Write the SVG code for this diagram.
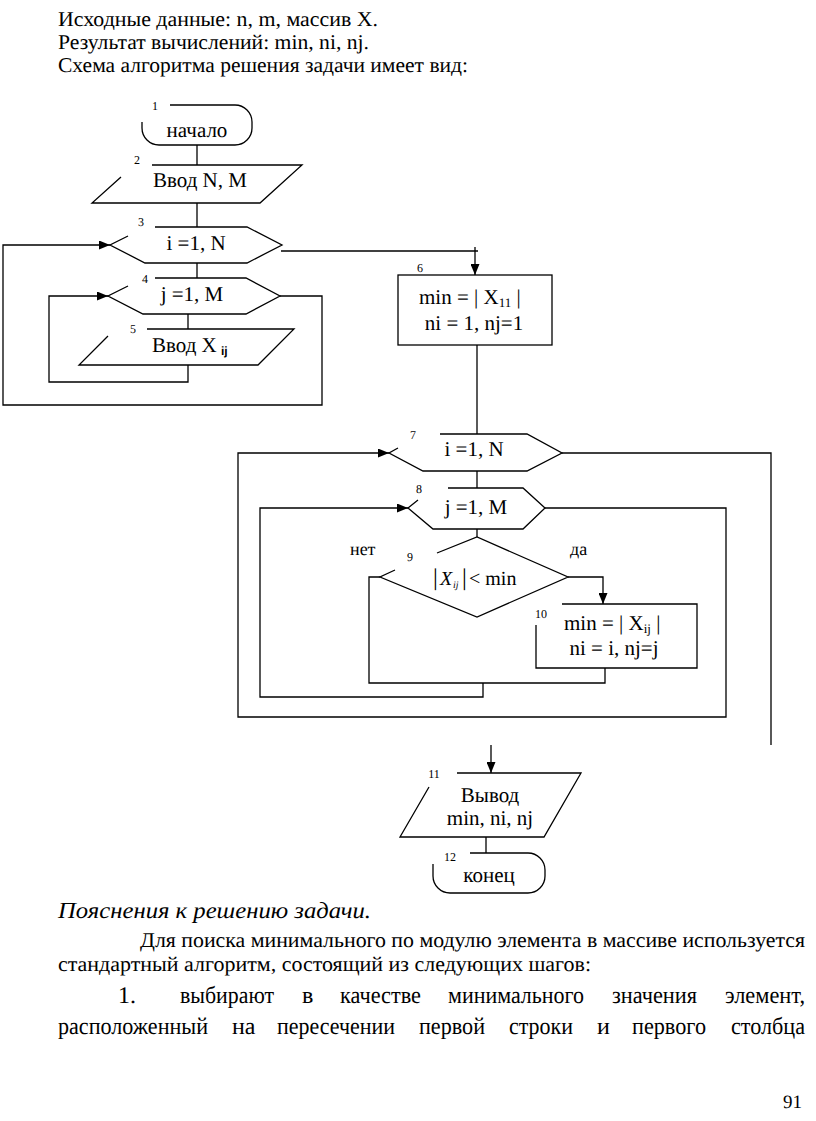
<svg xmlns="http://www.w3.org/2000/svg" width="816" height="1121" viewBox="0 0 816 1121">
<style>
.s{fill:none;stroke:#000;stroke-width:1.3}
.t{fill:#000}
.n{font-size:21px;text-anchor:middle}
.lb{font-size:12px;text-anchor:middle}
.p{font-size:21px}
.w{font-size:24px}
text{text-rendering:geometricPrecision}
</style>
<defs>
<marker id="ah" markerWidth="11" markerHeight="9" refX="11" refY="4.5" orient="auto" markerUnits="userSpaceOnUse">
<path d="M0,0 L11,4.5 L0,9 z" fill="#000"/>
</marker>
</defs>
<rect width="816" height="1121" fill="#fff"/>
<g font-family="Liberation Serif, serif" lang="ru">

<g id="header" class="t p">
<text x="58" y="26" font-family="Liberation Serif" textLength="320" lengthAdjust="spacingAndGlyphs">Исходные данные: n, m, массив X.</text>
<text x="58" y="49" font-family="Liberation Serif" textLength="311" lengthAdjust="spacingAndGlyphs">Результат вычислений: min, ni, nj.</text>
<text x="58" y="72" font-family="Liberation Serif" textLength="410" lengthAdjust="spacingAndGlyphs">Схема алгоритма решения задачи имеет вид:</text>
</g>

<g id="connectors" class="s">
<path d="M197,145 L197,165"/>
<path d="M197,203 L197,227"/>
<path d="M197,263 L197,278"/>
<path d="M188,314 L188,329"/>
<path d="M188,365 L188,382 L49,382 L49,296 L108,296" marker-end="url(#ah)"/>
<path d="M280,296 L322,296 L322,405 L3,405 L3,245 L110,245" marker-end="url(#ah)"/>
<path d="M281,251 L478,251"/>
<path d="M475,247 L475,275" marker-end="url(#ah)"/>
<path d="M477,345 L477,434"/>
<path d="M477,471 L477,488"/>
<path d="M477,529 L477,537"/>
<path d="M568,577 L603,577 L603,604" marker-end="url(#ah)"/>
<path d="M605,668 L605,683 L369,683 L369,577 L380,577"/>
<path d="M483,683 L483,697 L260,697 L260,508 L408,508" marker-end="url(#ah)"/>
<path d="M545,508 L726,508 L726,717 L238,717 L238,453 L389,453" marker-end="url(#ah)"/>
<path d="M562,453 L771,453 L771,745"/>
<path d="M491,745 L491,773" marker-end="url(#ah)"/>
<path d="M486,837 L486,853"/>
</g>

<g id="n1">
<path class="s" d="M170,105 L235,105 A17,17 0 0 1 252,122 L252,128 A17,17 0 0 1 235,145 L159,145 A17,17 0 0 1 142,128 L142,122"/>
<text class="t lb" x="155" y="110">1</text>
<text class="t n" x="197" y="137" font-family="Liberation Serif">начало</text>
</g>

<g id="n2">
<path class="s" d="M152,165 L302,165 L260,203 L92,203 L121,177"/>
<text class="t lb" x="137" y="164">2</text>
<text class="t n" x="200" y="187" font-family="Liberation Serif">Ввод N, M</text>
</g>

<g id="n3">
<path class="s" d="M155,227 L247,227 L282,245 L247,263 L145,263 L110,245 L128,236"/>
<text class="t lb" x="141" y="226">3</text>
<text class="t n" x="196" y="250">i =1, N</text>
</g>

<g id="n4">
<path class="s" d="M155,278 L246,278 L280,296 L246,314 L143,314 L108,296 L128,286"/>
<text class="t lb" x="145" y="283">4</text>
<text class="t n" x="192" y="301">j =1, M</text>
</g>

<g id="n5">
<path class="s" d="M147,329 L294,329 L258,365 L79,365 L108,336"/>
<text class="t lb" x="133" y="333">5</text>
<text class="t" x="152" y="352" font-size="21" font-family="Liberation Serif">Ввод X</text>
<text x="221" y="355" font-family="Liberation Sans, Arial, sans-serif" font-weight="bold" font-size="12">ij</text>
</g>

<g id="n6">
<rect class="s" x="398" y="275" width="154" height="70"/>
<text class="t lb" x="420" y="272">6</text>
<text class="t" x="419" y="304" font-size="21">min = | X<tspan font-size="13" dy="3">11</tspan><tspan dy="-3"> |</tspan></text>
<text class="t n" x="474" y="330">ni = 1, nj=1</text>
</g>

<g id="n7">
<path class="s" d="M440,434 L527,434 L562,453 L527,471 L423,471 L389,453 L398,448"/>
<text class="t lb" x="413" y="439">7</text>
<text class="t n" x="474" y="456">i =1, N</text>
</g>

<g id="n8">
<path class="s" d="M448,488 L523,488 L545,508 L523,529 L433,529 L408,508 L418,500"/>
<text class="t lb" x="419" y="493">8</text>
<text class="t n" x="476" y="514">j =1, M</text>
</g>

<g id="n9">
<path class="s" d="M437,553 L477,537 L568,577 L477,617 L380,577 L395,570"/>
<text class="t lb" x="410" y="561">9</text>
<text class="t" x="350" y="555" font-size="18" font-family="Liberation Serif">нет</text>
<text class="t" x="570" y="555" font-size="18" font-family="Liberation Serif">да</text>
<text class="t" y="585" font-size="20"><tspan x="433" font-size="24">|</tspan><tspan x="440" font-style="italic">X</tspan><tspan x="453" dy="3" font-size="10" font-style="italic">ij</tspan><tspan x="462" dy="-3" font-size="24">|</tspan><tspan x="469">&lt; min</tspan></text>
</g>

<g id="n10">
<path class="s" d="M562,604 L697,604 L697,668 L536,668 L536,625"/>
<text class="t lb" x="541" y="618">10</text>
<text class="t" x="564" y="630" font-size="21">min = | X<tspan font-size="13" dy="3">ij</tspan><tspan dy="-3"> |</tspan></text>
<text class="t n" x="614" y="655">ni = i, nj=j</text>
</g>

<g id="n11">
<path class="s" d="M457,773 L581,773 L544,837 L400,837 L429,787"/>
<text class="t lb" x="434" y="778">11</text>
<text class="t n" x="490" y="802" font-family="Liberation Serif">Вывод</text>
<text class="t n" x="490" y="825">min, ni, nj</text>
</g>

<g id="n12">
<path class="s" d="M470,853 L528,853 A17,17 0 0 1 545,870 L545,876 A17,17 0 0 1 528,893 L450,893 A17,17 0 0 1 433,876 L433,864"/>
<text class="t lb" x="450" y="861">12</text>
<text class="t n" x="489" y="882" font-family="Liberation Serif">конец</text>
</g>

<g id="footer" class="t">
<text x="58" y="918" font-size="23" font-style="italic" font-family="Liberation Serif" textLength="313" lengthAdjust="spacingAndGlyphs">Пояснения к решению задачи.</text>
<text x="140" y="947" font-size="21" font-family="Liberation Serif" textLength="665" lengthAdjust="spacingAndGlyphs">Для поиска минимального по модулю элемента в массиве используется</text>
<text x="58" y="971" font-size="21" font-family="Liberation Serif" textLength="533" lengthAdjust="spacingAndGlyphs">стандартный алгоритм, состоящий из  следующих шагов:</text>
<g class="w" font-family="Liberation Serif">
<text x="118" y="1003">1.</text>
<text x="180" y="1003" textLength="94" lengthAdjust="spacingAndGlyphs">выбирают</text>
<text x="302" y="1003">в</text>
<text x="340" y="1003" textLength="81" lengthAdjust="spacingAndGlyphs">качестве</text>
<text x="448" y="1003" textLength="136" lengthAdjust="spacingAndGlyphs">минимального</text>
<text x="612" y="1003" textLength="85" lengthAdjust="spacingAndGlyphs">значения</text>
<text x="725" y="1003" textLength="80" lengthAdjust="spacingAndGlyphs">элемент,</text>
<text x="58" y="1034" textLength="150" lengthAdjust="spacingAndGlyphs">расположенный</text>
<text x="232" y="1034">на</text>
<text x="277" y="1034" textLength="118" lengthAdjust="spacingAndGlyphs">пересечении</text>
<text x="419" y="1034" textLength="66" lengthAdjust="spacingAndGlyphs">первой</text>
<text x="509" y="1034" textLength="64" lengthAdjust="spacingAndGlyphs">строки</text>
<text x="597" y="1034">и</text>
<text x="632" y="1034" textLength="74" lengthAdjust="spacingAndGlyphs">первого</text>
<text x="731" y="1034" textLength="74" lengthAdjust="spacingAndGlyphs">столбца</text>
</g>
<text x="783" y="1108" font-size="19">91</text>
</g>
</g>
</svg>
